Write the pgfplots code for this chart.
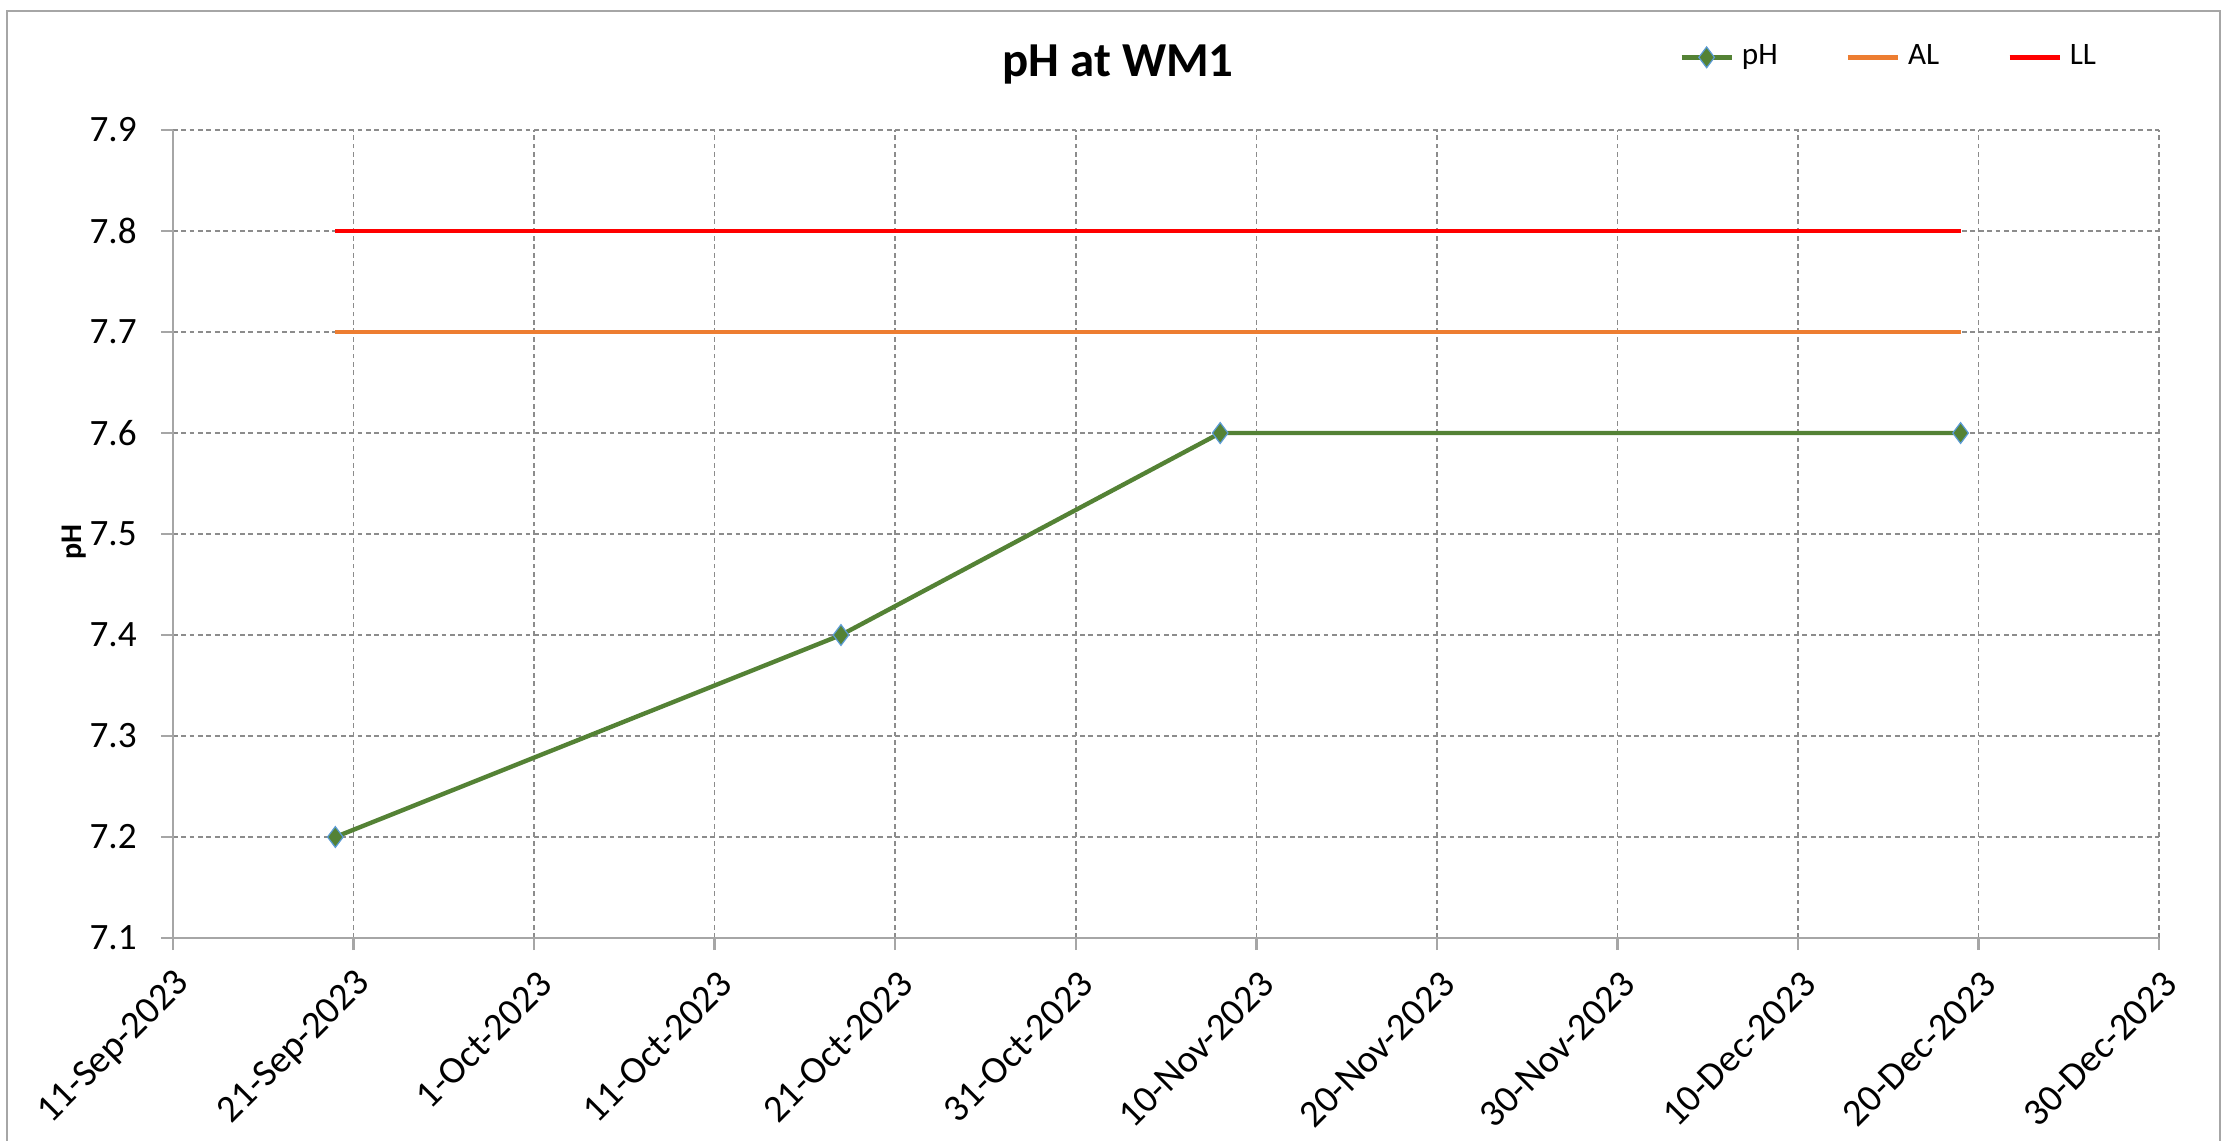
\documentclass[border=0pt]{standalone}
\usepackage{pgfplots}
\pgfplotsset{compat=1.18}
\usepackage{fontspec}
\setmainfont{Carlito}
\definecolor{phgreen}{HTML}{548235}
\definecolor{phblue}{HTML}{5B9BD5}
\definecolor{alorange}{HTML}{ED7D31}
\definecolor{llred}{HTML}{FF0000}
\definecolor{gridgray}{HTML}{8C8C8C}
\definecolor{axgray}{HTML}{A6A6A6}
\begin{document}
\begin{tikzpicture}
\path[use as bounding box] (0,0) rectangle (559pt,285pt);
\draw[axgray, line width=0.5pt] (1.8pt,-2pt) -- (1.8pt,282.3pt) -- (555pt,282.3pt) -- (555pt,-2pt);
\node[font=\bfseries\fontsize{12.2}{14}\selectfont] at (279.5pt,269pt) {pH at WM1};
\begin{axis}[
  at={(43.2pt,50.5pt)}, anchor=south west,
  scale only axis, width=496.6pt, height=202pt,
  xmin=0, xmax=110, ymin=7.1, ymax=7.9,
  xtick={0,10,...,110},
  xticklabels={11-Sep-2023,21-Sep-2023,1-Oct-2023,11-Oct-2023,21-Oct-2023,31-Oct-2023,10-Nov-2023,20-Nov-2023,30-Nov-2023,10-Dec-2023,20-Dec-2023,30-Dec-2023},
  ytick={7.1,7.2,...,7.9},
  yticklabel={\pgfmathprintnumber[fixed,fixed zerofill,precision=1,assume math mode=true]{\tick}},
  yticklabel style={font=\fontsize{9.3}{11}\selectfont, xshift=-2.5pt},
  xticklabel style={font=\fontsize{9.6}{11}\selectfont, rotate=45, anchor=east, yshift=-7pt, xshift=0.5pt},
  axis x line*=bottom, axis y line*=left,
  axis line style={axgray, line width=0.6pt, -},
  tick align=outside, major tick length=3pt,
  tick style={axgray, line width=0.6pt},
  grid=major,
  major grid style={gridgray, line width=0.4pt, dash pattern=on 1.2pt off 0.9pt},
  ylabel={\bfseries pH},
  ylabel style={font=\fontsize{7.5}{9}\selectfont, at={(axis description cs:-0.0497,0.49)}, anchor=center},
  legend columns=3,
  legend style={at={(axis description cs:0.752,1.09)}, anchor=west, draw=none, fill=none,
    font=\fontsize{7.8}{9}\selectfont, /tikz/every even column/.append style={column sep=15pt}},
  legend image code/.code={\draw[mark repeat=2,mark phase=2,#1] plot coordinates {(0cm,0cm)(0.22cm,0cm)(0.44cm,0cm)};},
  clip=false,
]
\addplot[phgreen, line width=1.1pt, mark=diamond*, mark size=2.6pt,
  mark options={fill=phgreen, draw=phblue, line width=0.3pt}]
  coordinates {(9,7.2) (37,7.4) (58,7.6) (99,7.6)};
\addlegendentry{pH}
\addplot[alorange, line width=1.1pt] coordinates {(9,7.7) (99,7.7)};
\addlegendentry{AL}
\addplot[llred, line width=1.1pt] coordinates {(9,7.8) (99,7.8)};
\addlegendentry{LL}
\end{axis}
\end{tikzpicture}
\end{document}
